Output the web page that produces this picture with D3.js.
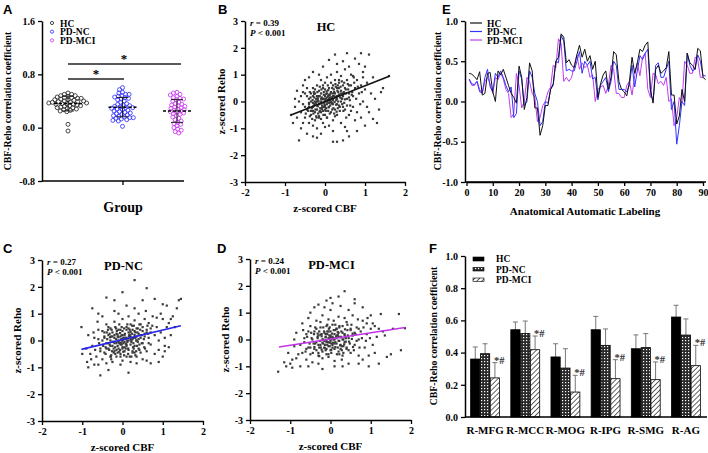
<!DOCTYPE html>
<html><head><meta charset="utf-8">
<script src="https://cdn.jsdelivr.net/npm/d3@7"></script>
<style>body{margin:0;background:#fff}svg{display:block}</style>
</head><body><svg id="c" width="708" height="453"></svg>
<script>
// ---------------- DATA ----------------
const groups = ["HC", "PD-NC", "PD-MCI"];
const groupColors = ["#333333", "#3b3bff", "#cc44ee"];
const aTicks = [-0.8, 0.0, 0.8, 1.6];
const aHC = [0.52,0.5,0.5,0.48,0.48,0.47,0.46,0.45,0.45,0.44,0.44,0.43,0.42,0.42,0.41,0.4,0.4,0.39,0.39,0.38,0.38,0.37,0.37,0.36,0.36,0.35,0.35,0.34,0.33,0.33,0.32,0.31,0.3,0.3,0.29,0.28,0.27,0.26,0.25,0.24,0.05,-0.05];
const aNC = [0.6,0.57,0.53,0.52,0.5,0.5,0.48,0.47,0.46,0.45,0.44,0.43,0.42,0.4,0.38,0.36,0.35,0.34,0.33,0.32,0.31,0.3,0.3,0.29,0.28,0.27,0.26,0.25,0.24,0.23,0.22,0.21,0.2,0.19,0.18,0.17,0.16,0.15,0.15,0.14,0.13,0.12,0.11,0.1,0.02];
const aMCI = [0.53,0.52,0.5,0.49,0.47,0.45,0.44,0.43,0.42,0.4,0.38,0.36,0.35,0.34,0.33,0.32,0.31,0.3,0.29,0.28,0.27,0.26,0.25,0.24,0.23,0.22,0.21,0.2,0.18,0.16,0.14,0.12,0.1,0.08,0.06,0.05,0.03,0.0,-0.02,-0.04,-0.06,-0.08];

const scatTicksX = [-2,-1,0,1,2];
const scatTicksY = [-3,-2,-1,0,1,2,3];
const bStats = {r:"0.39", line:[[-0.85,-0.5],[1.62,0.95]]};
const cStats = {r:"0.27", line:[[-1.02,-0.33],[1.45,0.55]]};
const dStats = {r:"0.24", line:[[-1.28,-0.28],[1.85,0.45]]};
const bPts = [[-0.65,-1.45],[-0.3,-1.3],[-0.2,-1.35],[0.3,-1.5],[0.45,-1.45],[0.2,-1.5],[0.55,-1.1],[0.8,-1.1],[1.0,-0.9],[1.3,-0.8],[1.2,-0.65],[1.35,-0.3],[1.4,0.35],[1.45,0.5],[1.6,0.95],[1.1,1.75],[0.9,1.8],[0.55,1.8],[0.25,1.75],[0.45,1.5],[0.1,1.55],[0.75,1.6],[1.0,1.3],[0.95,1.1],[1.2,0.9],[0.85,1.4],[-0.05,1.3],[-0.3,1.1],[-0.5,0.8],[-0.7,0.4],[-0.85,-0.5],[-0.75,-0.2],[-0.8,-0.8],[-0.6,-1.0],[-0.45,-1.2],[0.6,-1.3],[1.05,-0.2],[1.25,0.1],[0.9,-0.6],[0.7,0.95],
[-0.5,-0.6],[-0.45,-0.3],[-0.4,-0.8],[-0.4,0.1],[-0.35,-0.5],[-0.35,0.3],[-0.3,-0.2],[-0.3,-0.9],[-0.3,0.5],[-0.25,-0.4],[-0.25,0.0],[-0.25,-0.7],[-0.2,0.2],[-0.2,-0.3],[-0.2,0.6],[-0.2,-1.0],[-0.15,-0.1],[-0.15,0.4],[-0.15,-0.6],[-0.1,0.0],[-0.1,-0.4],[-0.1,0.3],[-0.1,0.8],[-0.05,-0.2],[-0.05,0.1],[-0.05,-0.8],[-0.05,0.5],[0,0],[0,-0.3],[0,0.2],[0,-0.5],[0,0.7],[0.05,-0.1],[0.05,0.3],[0.05,-0.6],[0.05,0.9],[0.1,0.1],[0.1,-0.2],[0.1,0.5],[0.1,-0.9],[0.15,0.0],[0.15,0.35],[0.15,-0.4],[0.15,1.0],[0.2,0.2],[0.2,-0.1],[0.2,0.6],[0.2,-0.7],[0.25,0.3],[0.25,-0.3],[0.25,0.8],[0.3,0.1],[0.3,0.5],[0.3,-0.5],[0.3,1.1],[0.35,0.25],[0.35,-0.15],[0.35,0.7],[0.4,0.4],[0.4,0.0],[0.4,-0.8],[0.4,0.95],[0.45,0.2],[0.45,0.6],[0.5,-0.3],[0.5,0.5],[0.5,1.2],[0.55,0.1],[0.55,0.8],[0.6,0.3],[0.6,-0.5],[0.65,0.6],[0.65,1.0],[0.7,0.2],[0.7,-0.2],[0.75,0.5],[0.8,0.8],[0.8,-0.4],[0.85,0.3],[0.9,0.6],[0.95,0.0],[1.0,0.45],[-0.55,-0.1],[-0.6,-0.4],[-0.65,0.0],[-0.5,0.3],[-0.55,-0.8],[-0.45,0.5],[-0.4,-0.1],[-0.35,0.0],[-0.3,0.2],[-0.28,-0.15],[-0.22,-0.55],[-0.18,0.05],[-0.12,-0.25],[-0.08,0.15],[-0.02,-0.05],[0.02,0.1],[0.08,-0.35],[0.12,0.25],[0.18,-0.05],[0.22,0.45],[0.28,0.05],[0.32,-0.25],[0.38,0.15],[0.42,0.75],[0.48,-0.05],[0.52,0.3],[0.58,0.45],[0.62,0.05],[0.68,0.35],[0.72,0.9],[-0.48,-0.45],[-0.42,-0.25],[-0.38,0.35],[-0.32,-0.65],[-0.27,0.15],[-0.23,-0.05],[-0.17,-0.45],[-0.13,0.55],[-0.07,-0.15],[-0.03,0.35],[0.03,-0.25],[0.07,0.05],[0.13,-0.15],[0.17,0.15],[0.23,-0.45],[0.27,0.55],[0.33,0.35],[0.37,-0.35],[0.43,0.1],[0.47,0.35],[0.53,-0.6],[0.57,0.65],[0.63,-0.15],[0.67,0.25],[0.73,0.7],[0.78,0.1],[0.82,0.55],[0.88,-0.1],[0.92,0.35],[-0.1,-0.65],[-0.05,-0.35],[0.0,0.45],[0.05,0.15],[0.1,-0.05],[0.15,0.15],[-0.2,0.0],[-0.15,0.2],[-0.08,-0.05],[0.0,-0.15],[0.08,0.2],[0.12,0.05],[0.2,0.05],[-0.25,0.3],[-0.3,-0.35],[0.25,0.15],[0.3,-0.1],[0.35,0.5],[0.45,-0.2],[-0.6,0.2],[-0.7,-0.6],[-0.75,0.1],[1.05,0.7],[1.15,0.3],[1.1,-0.4],[0.95,0.9],[0.6,1.3],[0.3,1.4],[-0.15,1.0],[-0.4,0.9],[-0.55,0.6],[0.75,-0.7],[0.2,-1.1],[-0.1,-1.2],[0.5,-0.95],[0.0,-0.95]];
const bCore = [[-0.42,-0.35],[-0.4,-0.05],[-0.38,-0.55],[-0.36,0.15],[-0.33,-0.25],[-0.31,0.05],[-0.29,-0.45],[-0.27,0.28],[-0.26,-0.1],[-0.24,-0.3],[-0.22,0.1],[-0.21,-0.6],[-0.19,0.35],[-0.18,-0.18],[-0.16,0.0],[-0.14,-0.38],[-0.13,0.2],[-0.11,-0.08],[-0.09,0.45],[-0.08,-0.28],[-0.06,0.08],[-0.04,-0.5],[-0.03,0.25],[-0.01,-0.12],[0.01,0.05],[0.02,-0.35],[0.04,0.38],[0.06,-0.02],[0.07,0.6],[0.09,-0.22],[0.11,0.15],[0.12,-0.45],[0.14,0.3],[0.16,-0.08],[0.18,0.5],[0.19,0.08],[0.21,-0.25],[0.23,0.35],[0.24,-0.02],[0.26,0.65],[0.28,0.18],[0.29,-0.38],[0.31,0.4],[0.33,0.0],[0.35,0.25],[0.37,-0.2],[0.39,0.55],[0.41,0.12],[0.43,-0.1],[0.45,0.3],[0.48,0.7],[0.5,0.08],[0.52,0.45],[0.55,-0.15],[-0.35,-0.35],[-0.25,0.45],[-0.15,-0.55],[-0.05,0.6],[0.05,-0.6],[0.15,0.7],[0.25,-0.55],[0.35,0.8],[-0.45,0.2],[-0.2,-0.15],[-0.1,0.1],[0.0,-0.2],[0.1,0.25],[0.2,0.3],[0.3,0.2],[-0.3,-0.05],[-0.12,-0.35],[0.08,0.42],[0.18,-0.3],[0.28,-0.12],[0.4,0.3],[-0.02,0.1],[-0.18,0.12],[0.13,-0.02],[0.22,0.2],[-0.07,-0.22],[0.03,0.28],[0.32,0.6],[-0.28,0.35],[-0.4,-0.2],[0.46,-0.35],[0.6,0.6],[0.6,0.15],[0.65,-0.35],[-0.5,-0.2],[-0.55,0.35]];
const cPts = [[-1.02,0.5],[-0.85,-1.0],[-0.88,-0.8],[-0.55,-1.3],[-0.35,-1.1],[0.15,-1.2],[0.3,2.25],[0.6,1.95],[0.0,1.8],[-0.2,1.5],[-0.4,1.6],[1.45,1.55],[1.4,1.5],[1.35,1.2],[1.0,1.35],[1.1,1.3],[0.8,1.55],[0.5,1.5],[0.9,-0.8],[0.7,-0.85],[1.05,-0.4],[1.15,-0.25],[-0.75,1.2],[-0.6,1.0],[-0.9,-0.3],[-1.0,-0.5],[1.3,0.5],[1.2,0.8],[1.0,-0.6],[-0.7,-0.9],
[-0.8,-0.5],[-0.75,-0.2],[-0.7,0.1],[-0.65,-0.6],[-0.6,0.4],[-0.55,-0.3],[-0.5,0.0],[-0.5,-0.7],[-0.45,0.3],[-0.45,-0.45],[-0.4,-0.1],[-0.4,0.6],[-0.35,-0.3],[-0.35,0.2],[-0.3,-0.6],[-0.3,0.0],[-0.3,0.45],[-0.25,-0.2],[-0.25,0.3],[-0.25,-0.8],[-0.2,0.1],[-0.2,-0.4],[-0.2,0.7],[-0.15,-0.1],[-0.15,0.25],[-0.15,-0.6],[-0.1,0.0],[-0.1,0.4],[-0.1,-0.3],[-0.1,1.0],[-0.05,-0.15],[-0.05,0.15],[-0.05,-0.5],[0,0.05],[0,-0.25],[0,0.35],[0,-0.75],[0,0.8],[0.05,-0.05],[0.05,0.2],[0.05,-0.4],[0.1,0.1],[0.1,-0.2],[0.1,0.5],[0.1,-0.6],[0.15,0.0],[0.15,0.3],[0.15,-0.35],[0.15,0.9],[0.2,0.15],[0.2,-0.15],[0.2,0.6],[0.2,-0.8],[0.25,0.05],[0.25,0.4],[0.25,-0.45],[0.3,0.2],[0.3,-0.2],[0.3,0.75],[0.35,0.0],[0.35,0.45],[0.35,-0.6],[0.4,0.25],[0.4,-0.3],[0.4,1.0],[0.45,0.1],[0.45,0.6],[0.5,-0.1],[0.5,0.35],[0.5,-0.7],[0.55,0.15],[0.55,0.8],[0.6,0.4],[0.6,-0.4],[0.65,0.1],[0.65,0.65],[0.7,-0.15],[0.7,0.3],[0.75,0.9],[0.8,0.2],[0.8,-0.5],[0.85,0.5],[0.9,0.0],[0.95,0.3],[1.0,0.8],[1.05,0.1],[1.1,0.5],[1.2,0.2],[-0.38,0.05],[-0.32,-0.15],[-0.28,0.15],[-0.22,-0.05],[-0.18,-0.25],[-0.12,0.15],[-0.08,-0.1],[-0.03,0.05],[0.02,-0.1],[0.07,0.1],[0.12,-0.05],[0.17,0.2],[0.22,0.0],[0.27,-0.1],[0.32,0.1],[0.37,0.3],[0.42,-0.15],[-0.42,-0.25],[-0.36,0.4],[-0.26,-0.4],[-0.16,0.45],[-0.06,-0.35],[0.04,0.45],[0.14,-0.5],[0.24,0.25],[0.34,-0.4],[0.44,0.4],[0.54,-0.25],[0.64,0.25],[0.74,0.55],[-0.58,-0.1],[-0.62,0.7],[-0.68,-0.35],[-0.72,0.3],[-0.78,-0.7],[-0.85,0.2],[0.58,1.1],[0.3,1.2],[0.1,1.3],[-0.2,1.1],[-0.5,0.9],[0.85,0.85],[0.95,1.0],[1.25,0.9],[1.05,-0.2],[0.6,-0.75],[0.35,-0.85],[-0.05,-0.9],[-0.4,-0.85],[-0.6,-0.9],[0.0,0.0],[-0.02,0.2],[0.08,-0.3],[0.18,0.4],[-0.28,-0.55],[-0.12,-0.45],[0.48,0.2],[0.28,0.55],[-0.45,0.15],[0.62,0.55],[0.9,-0.35],[1.15,0.65]];
const cCore = [[-0.48,-0.2],[-0.45,0.1],[-0.42,-0.5],[-0.39,0.3],[-0.36,-0.1],[-0.33,-0.35],[-0.31,0.12],[-0.29,-0.6],[-0.27,0.4],[-0.24,-0.05],[-0.22,-0.3],[-0.2,0.2],[-0.18,-0.5],[-0.16,0.05],[-0.14,0.35],[-0.12,-0.2],[-0.1,0.12],[-0.08,-0.42],[-0.06,0.28],[-0.04,-0.08],[-0.02,0.5],[0.0,-0.3],[0.02,0.1],[0.04,-0.55],[0.06,0.25],[0.08,-0.12],[0.1,0.4],[0.12,0.0],[0.14,-0.3],[0.16,0.15],[0.18,-0.6],[0.2,0.32],[0.22,-0.05],[0.24,0.55],[0.26,-0.25],[0.28,0.1],[0.3,-0.45],[0.32,0.3],[0.34,0.0],[0.36,-0.2],[0.38,0.45],[0.4,0.05],[0.42,-0.35],[0.45,0.2],[0.48,-0.1],[0.5,0.5],[0.53,0.05],[0.56,-0.3],[0.6,0.3],[-0.3,-0.2],[-0.2,-0.1],[-0.1,-0.05],[0.0,0.2],[0.1,-0.15],[0.2,0.05],[0.3,0.35],[-0.35,0.5],[-0.25,0.15],[-0.15,-0.35],[-0.05,0.4],[0.05,-0.25],[0.15,0.45],[0.25,-0.4],[0.35,0.15],[0.45,-0.45],[-0.5,0.35],[-0.55,-0.4],[0.65,-0.1],[0.7,0.45],[-0.02,-0.15],[0.08,0.05],[-0.12,0.22],[0.18,0.22],[-0.22,-0.45],[0.28,-0.3],[-0.32,0.25],[0.38,-0.05],[0.02,-0.42],[-0.08,0.6],[0.12,0.6],[-0.4,-0.3],[0.42,0.6],[-0.18,0.5],[0.22,-0.6],[0.55,0.25],[-0.6,0.05],[0.0,0.0],[-0.05,-0.6],[0.32,-0.55],[-0.28,-0.7]];
const dPts = [[-1.3,-1.2],[-1.1,-1.0],[-1.0,-0.9],[-1.15,-0.85],[-0.95,-1.05],[-0.85,-0.7],[-0.75,-1.0],[-1.05,-0.5],[-0.9,0.0],[1.75,-0.4],[1.85,0.42],[1.7,0.95],[1.5,-0.55],[1.4,-0.65],[1.55,0.4],[1.2,-0.9],[0.35,1.8],[0.2,1.6],[0.0,1.55],[-0.1,1.45],[-0.3,1.3],[-0.5,1.0],[-0.4,1.2],[0.6,1.5],[0.8,1.2],[1.0,0.9],[1.25,0.95],[0.95,-1.0],[0.7,-0.9],[0.3,-1.0],[-0.2,-1.1],[-0.55,-1.0],[0.9,0.6],[1.1,0.5],[1.3,0.3],
[-0.7,-0.5],[-0.65,-0.1],[-0.6,0.2],[-0.6,-0.75],[-0.55,-0.3],[-0.5,0.5],[-0.5,-0.55],[-0.45,0.0],[-0.45,-0.85],[-0.4,0.3],[-0.4,-0.35],[-0.35,-0.1],[-0.35,0.7],[-0.3,0.15],[-0.3,-0.5],[-0.25,-0.2],[-0.25,0.45],[-0.2,0.0],[-0.2,-0.7],[-0.2,0.9],[-0.15,-0.3],[-0.15,0.25],[-0.1,-0.1],[-0.1,0.5],[-0.1,-0.55],[-0.05,0.05],[-0.05,-0.25],[-0.05,0.75],[0,-0.05],[0,0.3],[0,-0.4],[0,1.1],[0.05,0.1],[0.05,-0.2],[0.05,0.55],[0.1,-0.35],[0.1,0.2],[0.1,-0.8],[0.15,0.05],[0.15,0.4],[0.15,-0.15],[0.2,0.25],[0.2,-0.45],[0.2,0.85],[0.25,0.1],[0.25,-0.2],[0.3,0.5],[0.3,-0.6],[0.35,0.2],[0.35,-0.1],[0.4,0.65],[0.4,-0.35],[0.45,0.05],[0.5,0.35],[0.5,-0.5],[0.55,0.15],[0.55,0.9],[0.6,-0.2],[0.65,0.45],[0.7,0.0],[0.7,-0.6],[0.75,0.3],[0.8,0.7],[0.85,-0.3],[0.9,0.2],[0.95,-0.6],[1.0,0.4],[1.05,-0.2],[1.15,0.1],[-0.32,0.05],[-0.28,-0.3],[-0.22,0.2],[-0.18,-0.15],[-0.12,0.1],[-0.08,-0.2],[-0.03,0.15],[0.02,-0.15],[0.07,0.0],[0.12,-0.1],[0.17,0.15],[0.22,-0.05],[0.27,0.3],[0.32,-0.25],[0.37,0.1],[0.42,0.35],[-0.38,0.45],[-0.42,-0.15],[-0.48,0.25],[-0.52,-0.15],[-0.58,0.1],[-0.62,-0.45],[-0.68,0.35],[-0.75,-0.2],[-0.8,-0.55],[-0.85,0.25],[0.48,-0.15],[0.52,0.55],[0.58,-0.4],[0.62,0.2],[0.68,0.75],[0.72,-0.3],[0.78,0.05],[0.82,0.45],[0.88,-0.05],[0.92,0.8],[0.98,0.05],[1.05,0.6],[1.1,-0.5],[1.2,0.4],[1.35,0.15],[-0.9,-0.25],[-0.95,-0.75],[0.05,1.35],[0.25,1.25],[-0.15,1.2],[0.45,1.1],[0.6,1.35],[0.1,-1.0],[0.45,-0.9],[-0.3,-0.9],[0.8,-0.75],[-0.05,-0.65],[0.28,-0.75],[-0.55,0.8],[-0.7,0.6],[-0.02,0.45],[0.12,0.35],[-0.25,0.65],[0.35,0.8],[0.08,0.7],[0.3,0.0],[-0.12,-0.4],[0.18,-0.3],[0.0,0.1],[-0.08,0.3],[0.22,0.5]];
const dCore = [[-0.5,-0.3],[-0.47,0.05],[-0.44,-0.5],[-0.41,0.2],[-0.38,-0.15],[-0.35,-0.4],[-0.32,0.1],[-0.3,-0.6],[-0.28,0.3],[-0.26,-0.05],[-0.24,-0.3],[-0.22,0.12],[-0.2,-0.45],[-0.18,0.0],[-0.16,0.3],[-0.14,-0.2],[-0.12,0.08],[-0.1,-0.35],[-0.08,0.2],[-0.06,-0.1],[-0.04,0.4],[-0.02,-0.25],[0.0,0.05],[0.02,-0.5],[0.04,0.22],[0.06,-0.12],[0.08,0.35],[0.1,0.0],[0.12,-0.28],[0.14,0.12],[0.16,-0.55],[0.18,0.28],[0.2,-0.05],[0.22,0.45],[0.24,-0.22],[0.26,0.08],[0.28,-0.4],[0.3,0.25],[0.32,0.0],[0.34,-0.18],[0.36,0.38],[0.38,0.05],[0.4,-0.3],[0.43,0.15],[0.46,-0.08],[0.5,0.4],[0.53,0.02],[0.56,-0.28],[0.6,0.25],[-0.3,-0.2],[-0.2,-0.12],[-0.1,-0.05],[0.0,0.15],[0.1,-0.15],[0.2,0.1],[-0.35,0.4],[-0.25,0.18],[-0.15,-0.32],[-0.05,0.3],[0.05,-0.3],[0.15,0.4],[0.25,-0.35],[0.35,0.15],[0.45,-0.4],[-0.55,0.3],[-0.6,-0.35],[0.65,-0.05],[0.7,0.4],[-0.02,-0.12],[0.08,0.05],[-0.12,0.2],[0.18,0.18],[-0.22,-0.38],[0.28,-0.25],[-0.32,0.22],[0.38,-0.08],[0.02,-0.38],[-0.08,0.55],[0.12,0.55],[-0.4,-0.28],[0.42,0.55],[-0.18,0.45],[0.22,-0.55],[0.55,0.22],[-0.65,0.05],[0.0,0.0],[-0.05,-0.55],[0.32,-0.5],[-0.28,-0.62],[-0.15,-0.05]];

const eTicksX = [0,10,20,30,40,50,60,70,80,90];
const eTicksY = [-1.0,-0.5,0.0,0.5,1.0];
const eHC = [0.35,0.34,0.31,0.27,0.37,0.08,0.1,0.35,0.36,0.12,0.0,0.38,0.33,0.4,0.3,0.2,0.1,0.05,-0.02,0.44,0.3,-0.1,0.05,0.48,0.38,-0.08,-0.08,-0.42,-0.3,-0.05,-0.05,0.15,0.22,0.5,0.55,0.84,0.8,0.48,0.52,0.45,0.42,0.58,0.7,0.55,0.65,0.5,0.57,0.4,0.5,0.05,0.22,0.33,0.38,0.15,0.3,0.62,0.58,0.25,0.15,0.12,0.07,0.25,0.55,0.35,0.48,0.65,0.62,0.7,0.74,0.15,-0.02,0.4,0.45,0.35,0.38,0.42,0.62,0.08,0.08,-0.28,-0.18,0.15,0.0,0.6,0.48,0.45,0.4,0.66,0.63,0.3,0.27];
const eNC = [0.28,0.22,0.21,0.25,0.12,0.11,0.3,0.4,0.18,0.12,0.35,0.3,0.38,0.3,0.2,0.12,0.18,-0.2,-0.15,0.38,0.28,-0.05,0.0,0.38,0.3,0.1,0.0,-0.3,-0.25,0.0,-0.02,0.15,0.2,0.5,0.48,0.82,0.75,0.38,0.4,0.38,0.38,0.5,0.62,0.35,0.5,0.45,0.5,0.28,0.3,0.02,0.2,0.25,0.3,0.12,0.25,0.5,0.45,0.15,0.15,0.15,0.12,0.2,0.45,0.18,0.38,0.57,0.52,0.6,0.65,0.12,0.0,0.45,0.48,0.3,0.3,0.4,0.5,-0.1,0.0,-0.53,-0.3,0.0,-0.05,0.6,0.45,0.38,0.4,0.58,0.5,0.32,0.32];
const eMCI = [0.27,0.2,0.2,0.25,0.15,0.1,0.25,0.3,0.22,0.1,0.3,0.27,0.35,0.28,0.15,0.1,-0.2,-0.15,0.35,0.2,-0.08,0.0,0.3,0.25,0.1,0.05,-0.25,-0.2,-0.05,0.0,0.12,0.18,0.45,0.42,0.78,0.72,0.25,0.3,0.25,0.3,0.45,0.58,0.4,0.48,0.42,0.45,0.3,0.33,0.0,0.15,0.18,0.2,0.1,0.2,0.45,0.4,0.1,0.1,0.05,0.05,0.2,0.25,0.08,0.32,0.48,0.32,0.55,0.6,0.15,0.05,0.35,0.33,0.22,0.25,0.2,0.3,0.0,0.03,-0.3,-0.2,0.05,-0.02,0.5,0.45,0.35,0.35,0.55,0.52,0.3,0.3];

const fRegions = ["R-MFG","R-MCC","R-MOG","R-IPG","R-SMG","R-AG"];
const fTicksY = [0.0,0.2,0.4,0.6,0.8,1.0];
const fHC = [0.36,0.542,0.373,0.542,0.424,0.621];
const fHCsd = [0.075,0.048,0.082,0.083,0.086,0.073];
const fNC = [0.393,0.518,0.304,0.445,0.431,0.509];
const fNCsd = [0.062,0.078,0.12,0.102,0.087,0.1];
const fMCI = [0.243,0.418,0.155,0.238,0.232,0.319];
const fMCIsd = [0.095,0.085,0.104,0.118,0.11,0.126];

// ---------------- DRAW ----------------
const SERIF = '"Liberation Serif","Times New Roman",serif';
const SANS = '"Liberation Sans",Arial,sans-serif';
const svg = d3.select('#c');
const fmt1 = d => (d < 0 ? '-' : '') + Math.abs(d).toFixed(1);
const fmtI = d => (d < 0 ? '-' : '') + Math.abs(d);

const defs = svg.append('defs');
const pNC = defs.append('pattern').attr('id','pNC').attr('patternUnits','userSpaceOnUse').attr('width',3).attr('height',3);
pNC.append('rect').attr('width',3).attr('height',3).attr('fill','#2a2a2a');
pNC.append('rect').attr('x',1).attr('y',1).attr('width',1.2).attr('height',1.2).attr('fill','#fff');
const pMCI = defs.append('pattern').attr('id','pMCI').attr('patternUnits','userSpaceOnUse').attr('width',3.5).attr('height',3.5).attr('patternTransform','rotate(45)');
pMCI.append('rect').attr('width',3.5).attr('height',3.5).attr('fill','#fff');
pMCI.append('line').attr('x1',0).attr('y1',0).attr('x2',0).attr('y2',3.5).attr('stroke','#111').attr('stroke-width',1.3);

function styleAxis(g){
  g.selectAll('path.domain').attr('stroke','#000').attr('stroke-width',1.5);
  g.selectAll('.tick line').attr('stroke','#000').attr('stroke-width',1.3);
  g.selectAll('.tick text').attr('font-family',SERIF).attr('font-weight','bold').attr('font-size',10).attr('fill','#000');
}
function txt(x,y,s,opt={}){
  const t = svg.append('text').attr('x',x).attr('y',y).text(s)
    .attr('font-family',opt.family||SERIF).attr('font-weight','bold')
    .attr('font-size',opt.size||10).attr('fill',opt.fill||'#000')
    .attr('text-anchor',opt.anchor||'start');
  if(opt.rot) t.attr('transform',`rotate(-90,${x},${y})`);
  return t;
}

// Panel letters
[['A',3,14],['B',218,14],['E',442,14],['C',3,253],['D',217,253],['F',429,253]].forEach(d=>txt(d[1],d[2],d[0],{family:SANS,size:13}));

// ===== Panel A =====
const yA = d3.scaleLinear().domain([-0.8,1.6]).range([181,21]);
const xA = d3.scalePoint().domain(groups).range([68,177]);
svg.append('g').attr('transform','translate(42,0)')
  .call(d3.axisLeft(yA).tickValues(aTicks).tickFormat(fmt1).tickSize(4).tickSizeOuter(0).tickPadding(3)).call(styleAxis);
svg.append('line').attr('x1',42).attr('x2',184).attr('y1',181).attr('y2',181).attr('stroke','#000').attr('stroke-width',1.5);
svg.append('line').attr('x1',123).attr('x2',123).attr('y1',181).attr('y2',185).attr('stroke','#000').attr('stroke-width',1.3);
txt(11,101,'CBF-Reho correlation coefficient',{rot:true,anchor:'middle',size:9.8});
txt(123,212,'Group',{anchor:'middle',size:14});

const aSets=[aHC,aNC,aMCI];
const R=2;
aSets.forEach((vals,gi)=>{
  const cx = xA(groups[gi]);
  const placed=[];
  const sorted = vals.slice().sort((a,b)=>b-a);
  sorted.forEach(v=>{
    const y = yA(v);
    let best=cx;
    for(let k=0;k<120;k++){
      const off = (k%2===0?1:-1)*Math.ceil(k/2)*0.6;
      const x = cx+off;
      if(placed.every(p=>Math.hypot(p[0]-x,p[1]-y)>=3.3)){best=x;break;}
    }
    placed.push([best,y]);
  });
  svg.append('g').selectAll('circle').data(placed).join('circle')
    .attr('cx',d=>d[0]).attr('cy',d=>d[1]).attr('r',R)
    .attr('fill','none').attr('stroke',groupColors[gi]).attr('stroke-width',0.9);
  const m=d3.mean(vals), sd=d3.deviation(vals);
  svg.append('line').attr('x1',cx-14).attr('x2',cx+14).attr('y1',yA(m)).attr('y2',yA(m))
    .attr('stroke','#000').attr('stroke-width',1.4).attr('stroke-dasharray','3,2');
  svg.append('line').attr('x1',cx).attr('x2',cx).attr('y1',yA(m+sd)).attr('y2',yA(m-sd)).attr('stroke','#222').attr('stroke-width',1);
  [m+sd,m-sd].forEach(v=>svg.append('line').attr('x1',cx-6).attr('x2',cx+6).attr('y1',yA(v)).attr('y2',yA(v)).attr('stroke','#222').attr('stroke-width',1));
});
// significance bars
svg.append('line').attr('x1',xA('HC')).attr('x2',181).attr('y1',64).attr('y2',64).attr('stroke','#222').attr('stroke-width',1.3);
txt(124,63,'*',{anchor:'middle',size:13});
svg.append('line').attr('x1',xA('HC')).attr('x2',124).attr('y1',79).attr('y2',79).attr('stroke','#222').attr('stroke-width',1.3);
txt(96,78,'*',{anchor:'middle',size:13});
// legend A
groups.forEach((g,i)=>{
  const y=23+i*8.7;
  svg.append('circle').attr('cx',52).attr('cy',y).attr('r',1.6).attr('fill','none').attr('stroke',groupColors[i]).attr('stroke-width',0.9);
  txt(60,y+3.5,g,{size:9.5});
});

// ===== Scatter panels =====
function scatter(cfg){
  const x = d3.scaleLinear().domain([-2,2]).range([cfg.x0,cfg.x1]);
  const y = d3.scaleLinear().domain([-3,3]).range([cfg.y1,cfg.y0]);
  svg.append('g').attr('transform',`translate(${cfg.x0},0)`)
    .call(d3.axisLeft(y).tickValues(scatTicksY).tickFormat(fmtI).tickSize(4).tickSizeOuter(0).tickPadding(3)).call(styleAxis);
  svg.append('g').attr('transform',`translate(0,${cfg.y1})`)
    .call(d3.axisBottom(x).tickValues(scatTicksX).tickFormat(fmtI).tickSize(4).tickSizeOuter(0).tickPadding(3)).call(styleAxis);
  svg.append('g').selectAll('rect').data(cfg.pts.concat(cfg.core)).join('rect')
    .attr('x',d=>x(d[0])-1.1).attr('y',d=>y(d[1])-1.1).attr('width',2.2).attr('height',2.2)
    .attr('fill','#3a3a3a');
  svg.append('line').attr('x1',x(cfg.stats.line[0][0])).attr('y1',y(cfg.stats.line[0][1]))
    .attr('x2',x(cfg.stats.line[1][0])).attr('y2',y(cfg.stats.line[1][1]))
    .attr('stroke',cfg.color).attr('stroke-width',1.6);
  const t1 = txt(cfg.x0+5,cfg.y0+5,'',{size:9});
  t1.append('tspan').attr('font-style','italic').text('r');
  t1.append('tspan').text(' = '+cfg.stats.r);
  const t2 = txt(cfg.x0+5,cfg.y0+15,'',{size:9});
  t2.append('tspan').attr('font-style','italic').text('P');
  t2.append('tspan').text(' < 0.001');
  txt((cfg.x0+cfg.x1)/2+1,cfg.y0+10,cfg.title,{anchor:'middle',size:12.5});
  txt((cfg.x0+cfg.x1)/2,cfg.y1+30,'z-scored CBF',{anchor:'middle',size:11});
  txt(cfg.ylx,(cfg.y0+cfg.y1)/2,'z-scored Reho',{anchor:'middle',size:11,rot:true});
}
scatter({x0:245,x1:405,y0:21,y1:182,pts:bPts,core:bCore,stats:bStats,color:'#111',title:'HC',ylx:225});
scatter({x0:42,x1:203,y0:260,y1:421,pts:cPts,core:cCore,stats:cStats,color:'#2525ee',title:'PD-NC',ylx:21});
scatter({x0:250,x1:411,y0:259,y1:420,pts:dPts,core:dCore,stats:dStats,color:'#c433e8',title:'PD-MCI',ylx:229});

// ===== Panel E =====
const xE = d3.scaleLinear().domain([0,90]).range([466.5,703]);
const yE = d3.scaleLinear().domain([-1,1]).range([182,21]);
svg.append('g').attr('transform','translate(465,0)')
  .call(d3.axisLeft(yE).tickValues(eTicksY).tickFormat(fmt1).tickSize(4).tickSizeOuter(0).tickPadding(3)).call(styleAxis);
svg.append('g').attr('transform','translate(0,182)')
  .call(d3.axisBottom(xE).tickValues(eTicksX).tickFormat(fmtI).tickSize(4).tickSizeOuter(0).tickPadding(3)).call(styleAxis);
svg.append('line').attr('x1',465).attr('x2',706).attr('y1',182).attr('y2',182).attr('stroke','#000').attr('stroke-width',1.5);
const eSeries=[[eHC,'#111'],[eNC,'#3333ff'],[eMCI,'#c03cf0']];
const lineE = d3.line().x((d,i)=>xE(i+1)).y(d=>yE(d));
[eSeries[2],eSeries[1],eSeries[0]].forEach(s=>{
  svg.append('path').attr('d',lineE(s[0])).attr('fill','none').attr('stroke',s[1]).attr('stroke-width',1);
});
eSeries.forEach((s,i)=>{
  const y=23+i*8.5;
  svg.append('line').attr('x1',470).attr('x2',482).attr('y1',y).attr('y2',y).attr('stroke',s[1]).attr('stroke-width',1.2);
  txt(487,y+3.5,groups[i],{size:9.5});
});
txt(441,101,'CBF-Reho correlation coefficient',{rot:true,anchor:'middle',size:9.8});
txt(585,215,'Anatomical Automatic Labeling',{anchor:'middle',size:11});

// ===== Panel F =====
const yF = d3.scaleLinear().domain([0,1]).range([417,256]);
const xF = d3.scaleBand().domain(fRegions).range([465,706]);
const xSub = d3.scaleBand().domain(groups).range([0,29.5]);
svg.append('g').attr('transform','translate(465,0)')
  .call(d3.axisLeft(yF).tickValues(fTicksY).tickFormat(fmt1).tickSize(4).tickSizeOuter(0).tickPadding(3)).call(styleAxis);
const fills=['#000','url(#pNC)','url(#pMCI)'];
const fVals=[[fHC,fHCsd],[fNC,fNCsd],[fMCI,fMCIsd]];
fRegions.forEach((r,ri)=>{
  const gx = xF(r)+xF.bandwidth()/2-14.75;
  fVals.forEach((fv,gi)=>{
    const x = gx+xSub(groups[gi])+0.3;
    const w = xSub.bandwidth()-0.6;
    const v=fv[0][ri], sd=fv[1][ri];
    const cx = x+w/2;
    svg.append('line').attr('x1',cx).attr('x2',cx).attr('y1',yF(v)).attr('y2',yF(v+sd)).attr('stroke','#777').attr('stroke-width',1);
    svg.append('line').attr('x1',cx-2.5).attr('x2',cx+2.5).attr('y1',yF(v+sd)).attr('y2',yF(v+sd)).attr('stroke','#777').attr('stroke-width',1);
    svg.append('rect').attr('x',x).attr('y',yF(v)).attr('width',w).attr('height',yF(0)-yF(v))
      .attr('fill',fills[gi]).attr('stroke','#000').attr('stroke-width',0.8);
    if(gi===2) txt(cx-1,yF(v+sd)+1,'*#',{size:10.5,fill:'#333'});
  });
});
svg.append('line').attr('x1',465).attr('x2',707).attr('y1',417).attr('y2',417).attr('stroke','#000').attr('stroke-width',1.5);
svg.append('g').selectAll('text').data(fRegions).join('text')
  .attr('x',d=>xF(d)+xF.bandwidth()/2).attr('y',434).text(d=>d)
  .attr('font-family',SERIF).attr('font-weight','bold').attr('font-size',11).attr('text-anchor','middle');
groups.forEach((g,i)=>{
  const y=259+i*10.5;
  svg.append('rect').attr('x',473).attr('y',y-2).attr('width',11).attr('height',i===0?4:3.5)
    .attr('fill',fills[i]).attr('stroke','#000').attr('stroke-width',0.6);
  txt(496,y+3,g,{size:9.5});
});
txt(437,336,'CBF-Reho correlation coefficient',{rot:true,anchor:'middle',size:9.8});
</script></body></html>
